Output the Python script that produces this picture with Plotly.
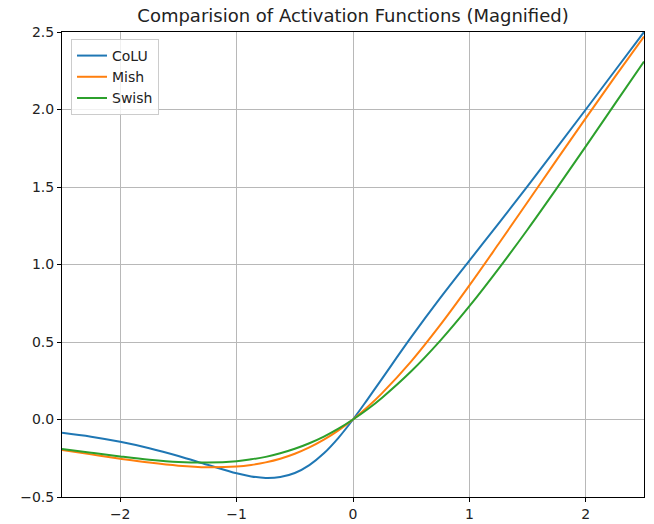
import plotly.graph_objects as go

x_vals = [-2.5, -2.25, -2.0, -1.75, -1.5, -1.25, -1.0, -0.875, -0.75, -0.625, -0.5, -0.375,
          -0.25, -0.125, 0.0, 0.125, 0.25, 0.5, 0.75, 1.0, 1.25, 1.5, 1.75, 2.0, 2.25, 2.5]
colu_vals = [-0.086, -0.111, -0.144, -0.185, -0.235, -0.292, -0.347, -0.367, -0.377, -0.371,
             -0.345, -0.294, -0.218, -0.118, 0.0, 0.130, 0.264, 0.531, 0.784, 1.025, 1.264,
             1.506, 1.752, 2.000, 2.250, 2.500]
mish_vals = [-0.197, -0.225, -0.2525, -0.278, -0.298, -0.308, -0.303, -0.293, -0.2765, -0.253,
             -0.221, -0.180, -0.130, -0.070, 0.0, 0.080, 0.170, 0.375, 0.610, 0.865, 1.132,
             1.403, 1.675, 1.944, 2.210, 2.471]
swish_vals = [-0.190, -0.2145, -0.238, -0.259, -0.274, -0.278, -0.269, -0.257, -0.241, -0.218,
              -0.189, -0.153, -0.110, -0.059, 0.0, 0.066, 0.141, 0.311, 0.509, 0.731, 0.972,
              1.226, 1.491, 1.762, 2.036, 2.310]

series = [("CoLU", colu_vals, "#1f77b4"), ("Mish", mish_vals, "#ff7f0e"), ("Swish", swish_vals, "#2ca02c")]

fig = go.Figure()
for name, vals, col in series:
    fig.add_trace(go.Scatter(x=x_vals, y=vals, mode="lines", name=name,
                             line=dict(color=col, width=2, shape="spline")))

axis_common = dict(showgrid=True, gridcolor="#b8b8b8", gridwidth=1, zeroline=False,
                   showline=True, linecolor="black", linewidth=1, mirror=True,
                   ticks="outside", ticklen=4, tickcolor="black", automargin=False,
                   tickfont=dict(family="DejaVu Sans", size=14, color="#222222"))

fig.update_layout(
    width=654, height=524,
    margin=dict(l=62, r=10, t=32, b=27, autoexpand=False),
    paper_bgcolor="white", plot_bgcolor="white",
    title=dict(text="Comparision of Activation Functions (Magnified)", x=0.5, xref="paper",
               xanchor="center", y=1 - 16 / 524, yanchor="middle", automargin=False,
               font=dict(family="DejaVu Sans", size=18, color="#222222")),
    xaxis=dict(range=[-2.5, 2.5], tickvals=[-2, -1, 0, 1, 2], **axis_common),
    yaxis=dict(range=[-0.5, 2.5], tickvals=[-0.5, 0, 0.5, 1, 1.5, 2, 2.5], tickformat=".1f", **axis_common),
    legend=dict(x=0.0155, y=0.985, xanchor="left", yanchor="top",
                bgcolor="rgba(255,255,255,0.8)", bordercolor="#cccccc", borderwidth=1,
                font=dict(family="DejaVu Sans", size=14, color="#222222"),
                tracegroupgap=2),
    showlegend=True,
)

fig.write_html("out.html", config={"displayModeBar": False},
               post_script=["document.body.style.margin='0';document.body.style.overflow='hidden';"])
